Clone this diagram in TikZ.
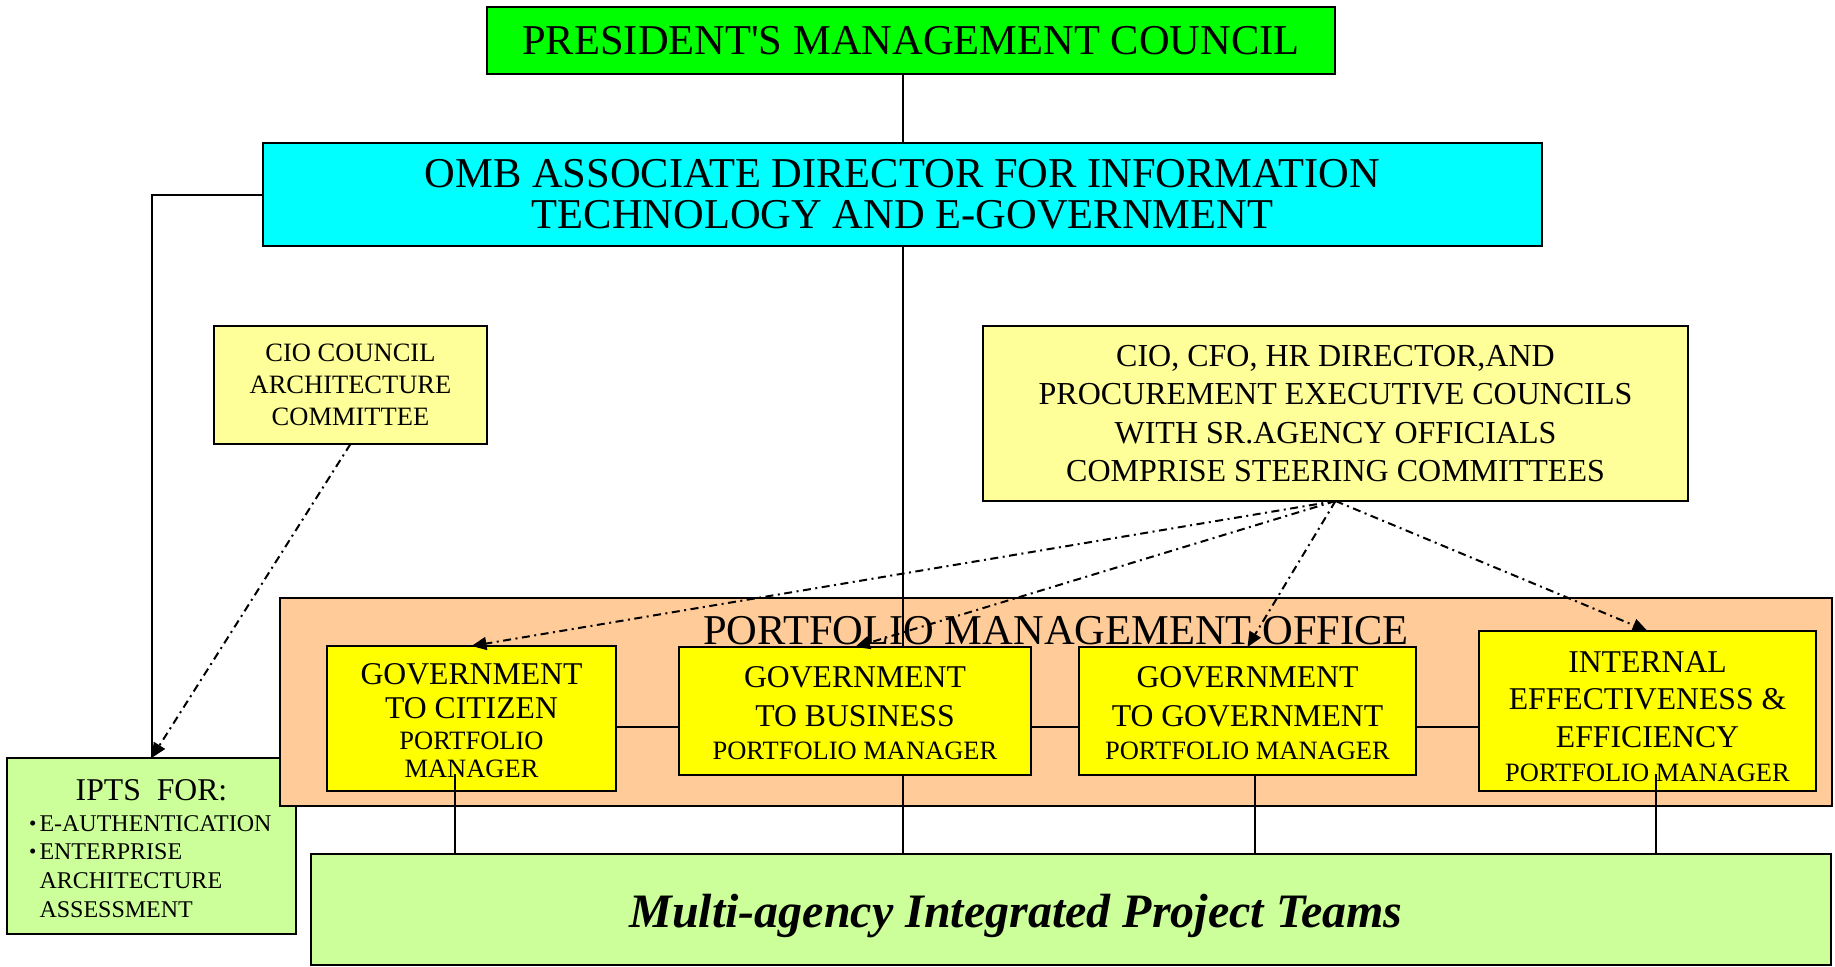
\documentclass[tikz,border=0pt]{standalone}
\usepackage{fontspec}
\setmainfont{Liberation Serif}
\usetikzlibrary{arrows.meta}
\definecolor{pmcgreen}{HTML}{00FF00}
\definecolor{ombcyan}{HTML}{00FFFF}
\definecolor{paleyellow}{HTML}{FFFF99}
\definecolor{brightyellow}{HTML}{FFFF00}
\definecolor{peach}{HTML}{FFCC99}
\definecolor{lightgreen}{HTML}{CCFF99}
\newcommand{\fsbig}{\fontsize{42.5}{41}\selectfont}
\newcommand{\fssmall}{\fontsize{26.5}{28}\selectfont}
\newcommand{\fsipts}{\fontsize{24}{28}\selectfont}
\newcommand{\smallbullet}{\makebox[10.5pt][l]{\raisebox{0.5pt}{\fontsize{21}{21}\selectfont•}}}
\begin{document}
\begin{tikzpicture}[x=1pt,y=-1pt,
  box/.style={draw=black, line width=2pt, inner sep=0pt, outer sep=0pt, align=center, anchor=center},
  conn/.style={draw=black, line width=2pt},
  dd/.style={draw=black, line width=2pt, dash pattern=on 8pt off 4.5pt on 2pt off 4.5pt, -{Triangle[length=15pt,width=13pt]}},
  lbl/.style={inner sep=0pt, outer sep=0pt}
]
\useasboundingbox (0,0) rectangle (1835,966);

% top boxes
\node[box, fill=pmcgreen, minimum width=848pt, minimum height=67pt, font=\fsbig] (pmc) at (911,40.5) {PRESIDENT\textquotesingle S MANAGEMENT COUNCIL};
\node[box, fill=ombcyan, minimum width=1279pt, minimum height=103pt, font=\fsbig] (omb) at (902.5,194.5) {OMB ASSOCIATE DIRECTOR FOR INFORMATION\\TECHNOLOGY AND E-GOVERNMENT};
\node[box, fill=paleyellow, minimum width=273pt, minimum height=118pt, font=\fontsize{26.5}{32}\selectfont] (cioc) at (350.5,385) {CIO COUNCIL\\ARCHITECTURE\\COMMITTEE};
\node[box, fill=paleyellow, minimum width=705pt, minimum height=175pt, font=\fontsize{32}{38.3}\selectfont] (exec) at (1335.5,413.5) {CIO, CFO, HR DIRECTOR,AND\\PROCUREMENT EXECUTIVE COUNCILS\\WITH SR.AGENCY OFFICIALS\\COMPRISE STEERING COMMITTEES};

% IPTS box
\node[box, fill=lightgreen, minimum width=289pt, minimum height=176pt] (ipts) at (151.5,846) {};
\node[lbl, anchor=base, font=\fontsize{31.7}{34}\selectfont] (iptstitle) at (151.5,800) {IPTS\ \ FOR:};
\node[lbl, anchor=base west, font=\fsipts] (ipts1) at (29,831) {\smallbullet E-AUTHENTICATION};
\node[lbl, anchor=base west, font=\fsipts] (ipts2) at (29,859) {\smallbullet ENTERPRISE};
\node[lbl, anchor=base west, font=\fsipts] (ipts3) at (39.5,888) {ARCHITECTURE};
\node[lbl, anchor=base west, font=\fsipts] (ipts4) at (39.5,917) {ASSESSMENT};

% bottom box
\node[box, fill=lightgreen, minimum width=1520pt, minimum height=111pt] (mapt) at (1071,909.5) {};
\node[lbl, anchor=base, font=\fontsize{48}{50}\selectfont\bfseries\itshape] (mtext) at (1016,927) {Multi-agency Integrated Project Teams};

% portfolio management office
\node[box, fill=peach, minimum width=1552pt, minimum height=208pt] (pmo) at (1056,702) {};
\node[lbl, anchor=base, font=\fsbig] (pmotitle) at (1056,644) {PORTFOLIO MANAGEMENT OFFICE};

\draw[conn] (omb.south) -- (omb.south |- mapt.north);

\node[box, fill=brightyellow, minimum width=289pt, minimum height=145pt] (g2c) at (471.5,718.5) {};
\node[lbl, align=center, font=\fontsize{31.7}{34}\selectfont] (g2ctext) at ([yshift=-2pt]g2c.center) {GOVERNMENT\\TO CITIZEN\\[-3pt]{\fssmall PORTFOLIO}\\[-6pt]{\fssmall MANAGER}};
\node[box, fill=brightyellow, minimum width=352pt, minimum height=128pt] (g2b) at (855,711) {};
\node[lbl, align=center, font=\fontsize{31.7}{38.5}\selectfont] (g2btext) at ([yshift=-2pt]g2b.center) {GOVERNMENT\\TO BUSINESS\\[-5.5pt]{\fssmall PORTFOLIO MANAGER}};
\node[box, fill=brightyellow, minimum width=337pt, minimum height=128pt] (g2g) at (1247.5,711) {};
\node[lbl, align=center, font=\fontsize{31.7}{38.5}\selectfont] (g2gtext) at ([yshift=-2pt]g2g.center) {GOVERNMENT\\TO GOVERNMENT\\[-5.5pt]{\fssmall PORTFOLIO MANAGER}};
\node[box, fill=brightyellow, minimum width=337pt, minimum height=160pt] (iee) at (1647.5,711) {};
\node[lbl, align=center, font=\fontsize{31.7}{37.5}\selectfont] (ieetext) at ([yshift=-5.5pt]iee.center) {INTERNAL\\EFFECTIVENESS \&\\EFFICIENCY\\[-3.5pt]{\fssmall PORTFOLIO MANAGER}};

% solid connectors
\draw[conn] (omb.north |- pmc.south) -- (omb.north);
\draw[conn] (omb.west) -| (ipts.north);
\coordinate (hy) at (0,727);
\draw[conn] (g2c.east |- hy) -- (g2b.west |- hy);
\draw[conn] (g2b.east |- hy) -- (g2g.west |- hy);
\draw[conn] (g2g.east |- hy) -- (iee.west |- hy);
\coordinate (v1) at (455,774);
\coordinate (v3) at (1255,775);
\coordinate (v4) at (1656,774);
\draw[conn] (v1) -- (v1 |- mapt.north);
\draw[conn] (v3) -- (v3 |- mapt.north);
\draw[conn] (v4) -- (v4 |- mapt.north);

% dash-dot arrows
\draw[dd] (cioc.south) -- (ipts.north);
\draw[dd] (exec.south) -- (g2c.north);
\draw[dd] (exec.south) -- (g2b.north);
\draw[dd] (exec.south) -- (g2g.north);
\draw[dd] (exec.south) -- (iee.north);
\end{tikzpicture}
\end{document}
